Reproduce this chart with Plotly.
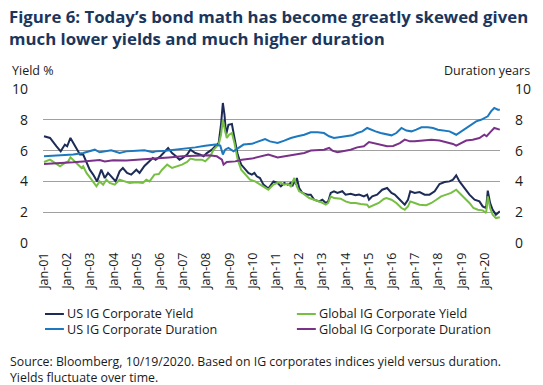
import plotly.graph_objects as go

# ---- data (x in decimal years) ----
us_yield_x = [2001.0, 2001.26, 2001.54, 2001.72, 2001.90, 2002.00, 2002.14, 2002.33, 2002.55, 2002.69, 2002.83, 2002.97,
              2003.12, 2003.29, 2003.47, 2003.62, 2003.76, 2003.90, 2004.09, 2004.26, 2004.40, 2004.58, 2004.76, 2004.98,
              2005.12, 2005.33, 2005.55, 2005.69, 2005.81, 2006.02, 2006.35, 2006.52, 2006.69, 2006.84, 2006.98, 2007.17,
              2007.31, 2007.52, 2007.74, 2007.88, 2008.02, 2008.24, 2008.38, 2008.53, 2008.63, 2008.71, 2008.78, 2008.85,
              2008.95, 2009.10, 2009.21, 2009.35, 2009.50, 2009.67, 2009.81, 2009.96, 2010.07, 2010.17, 2010.31, 2010.46,
              2010.67, 2010.89, 2011.07, 2011.21, 2011.36, 2011.50, 2011.64, 2011.71, 2011.79, 2011.86, 2011.90, 2012.00,
              2012.14, 2012.36, 2012.50, 2012.65, 2012.86, 2013.00, 2013.15, 2013.25, 2013.36, 2013.50, 2013.65, 2013.86,
              2014.00, 2014.22, 2014.43, 2014.58, 2014.79, 2014.93, 2015.01, 2015.15, 2015.36, 2015.58, 2015.79, 2015.98,
              2016.12, 2016.34, 2016.55, 2016.69, 2016.79, 2016.98, 2017.19, 2017.41, 2017.62, 2017.84, 2018.05, 2018.27,
              2018.48, 2018.63, 2018.77, 2018.91, 2019.13, 2019.34, 2019.56, 2019.77, 2019.91, 2020.06, 2020.13, 2020.23,
              2020.34, 2020.48, 2020.65]
us_yield = [6.93, 6.82, 6.28, 5.95, 6.39, 6.28, 6.82, 6.28, 5.74, 5.74, 5.2, 4.76,
            4.44, 4.0, 4.76, 4.22, 4.55, 4.33, 4.0, 4.65, 4.87, 4.55, 4.44, 4.76,
            4.55, 5.0, 5.3, 5.52, 5.41, 5.63, 6.17, 5.84, 5.63, 5.41, 5.52, 5.74,
            6.06, 5.84, 5.74, 5.63, 5.84, 6.06, 6.28, 6.49, 7.68, 9.09, 8.33, 7.03,
            7.68, 7.73, 6.82, 5.74, 5.09, 4.76, 4.55, 4.44, 4.55, 4.33, 4.22, 3.79,
            3.53, 4.0, 3.9, 3.68, 3.9, 3.79, 3.9, 3.68, 4.11, 3.79, 4.22, 3.57,
            3.25, 3.14, 3.14, 2.81, 2.7, 2.81, 2.6, 2.7, 3.25, 3.36, 3.25, 3.36,
            3.14, 3.2, 3.1, 3.14, 3.03, 3.14, 2.81, 3.03, 3.14, 3.46, 3.57, 3.25,
            3.14, 2.81, 2.49, 2.81, 3.36, 3.25, 3.31, 3.14, 3.14, 3.36, 3.83, 3.96,
            4.0, 4.11, 4.39, 4.0, 3.57, 3.14, 2.81, 2.7, 2.38, 2.27, 3.4, 2.6,
            2.16, 1.84, 2.06]

gl_yield_x = [2001.0, 2001.26, 2001.47, 2001.69, 2001.90, 2002.04, 2002.14, 2002.33, 2002.47, 2002.62, 2002.69, 2002.83,
              2003.05, 2003.26, 2003.40, 2003.55, 2003.69, 2003.83, 2004.05, 2004.26, 2004.48, 2004.69, 2004.98, 2005.26,
              2005.41, 2005.55, 2005.76, 2005.95, 2006.09, 2006.31, 2006.52, 2006.74, 2006.95, 2007.17, 2007.31, 2007.52,
              2007.81, 2007.95, 2008.17, 2008.31, 2008.53, 2008.63, 2008.71, 2008.81, 2008.88, 2008.98, 2009.10, 2009.21,
              2009.35, 2009.50, 2009.67, 2009.88, 2010.10, 2010.31, 2010.53, 2010.67, 2010.89, 2011.14, 2011.36, 2011.50,
              2011.64, 2011.71, 2011.79, 2011.90, 2012.00, 2012.14, 2012.43, 2012.65, 2012.93, 2013.15, 2013.25, 2013.36,
              2013.50, 2013.79, 2014.00, 2014.22, 2014.43, 2014.65, 2014.93, 2015.01, 2015.22, 2015.43, 2015.65, 2015.76,
              2015.98, 2016.19, 2016.41, 2016.55, 2016.69, 2016.79, 2016.98, 2017.19, 2017.48, 2017.70, 2017.91, 2018.12,
              2018.34, 2018.55, 2018.77, 2018.91, 2019.13, 2019.34, 2019.51, 2019.70, 2019.91, 2020.06, 2020.13, 2020.23,
              2020.34, 2020.48, 2020.65]
gl_yield = [5.26, 5.41, 5.2, 4.98, 5.2, 5.3, 5.56, 5.3, 5.1, 4.87, 4.98, 4.55,
            4.11, 3.68, 4.0, 3.79, 4.11, 3.9, 3.79, 4.11, 4.0, 3.9, 3.94, 3.9,
            4.11, 4.0, 4.44, 4.48, 4.76, 5.09, 4.87, 4.98, 5.09, 5.26, 5.48, 5.41,
            5.41, 5.3, 5.63, 6.06, 6.39, 7.03, 8.0, 7.25, 6.82, 7.03, 7.14, 6.49,
            5.41, 4.76, 4.44, 4.11, 4.0, 3.79, 3.57, 3.46, 3.79, 3.96, 3.79, 3.85,
            3.68, 3.9, 4.22, 3.68, 3.36, 3.25, 2.92, 2.81, 2.66, 2.49, 2.6, 3.03,
            2.92, 2.88, 2.7, 2.6, 2.6, 2.53, 2.49, 2.32, 2.45, 2.6, 2.86, 2.92,
            2.81, 2.6, 2.27, 2.16, 2.38, 2.7, 2.6, 2.49, 2.45, 2.6, 2.81, 3.03,
            3.14, 3.25, 3.46, 3.25, 2.92, 2.6, 2.27, 2.16, 2.12, 1.95, 3.03, 2.27,
            1.84, 1.62, 1.67]

us_dur_x = [2001.0, 2001.54, 2002.26, 2002.69, 2002.97, 2003.19, 2003.40, 2003.69, 2003.90, 2004.26, 2004.55, 2004.98,
            2005.33, 2005.69, 2005.81, 2006.24, 2006.67, 2007.09, 2007.52, 2007.95, 2008.38, 2008.60, 2008.71, 2008.81,
            2008.95, 2009.17, 2009.38, 2009.60, 2009.96, 2010.24, 2010.53, 2010.74, 2011.07, 2011.36, 2011.64, 2011.93,
            2012.22, 2012.50, 2012.79, 2013.07, 2013.29, 2013.50, 2013.79, 2014.08, 2014.29, 2014.50, 2014.72, 2014.93,
            2015.08, 2015.29, 2015.51, 2015.79, 2015.98, 2016.19, 2016.41, 2016.62, 2016.84, 2017.05, 2017.27, 2017.55,
            2017.77, 2017.98, 2018.20, 2018.48, 2018.77, 2018.98, 2019.20, 2019.41, 2019.63, 2019.84, 2020.03, 2020.13,
            2020.27, 2020.41, 2020.56, 2020.65]
us_dur = [5.63, 5.67, 5.74, 5.84, 5.95, 6.06, 5.89, 5.95, 6.02, 5.84, 5.95, 5.99,
          6.02, 5.89, 5.95, 5.99, 6.06, 6.17, 6.21, 6.32, 6.39, 6.32, 5.74, 6.06,
          6.17, 5.95, 6.17, 6.39, 6.44, 6.6, 6.75, 6.6, 6.5, 6.65, 6.82, 6.93,
          7.03, 7.19, 7.19, 7.14, 6.93, 6.82, 6.88, 6.93, 6.99, 7.14, 7.25, 7.47,
          7.36, 7.25, 7.14, 7.03, 6.99, 7.14, 7.47, 7.3, 7.25, 7.36, 7.51, 7.51,
          7.47, 7.36, 7.3, 7.25, 7.03, 7.25, 7.47, 7.68, 7.9, 8.0, 8.12, 8.23,
          8.55, 8.77, 8.66, 8.66]

gl_dur_x = [2001.0, 2001.69, 2002.26, 2002.69, 2003.12, 2003.40, 2003.62, 2003.98, 2004.55, 2005.12, 2005.55, 2005.91,
            2006.38, 2006.95, 2007.52, 2008.10, 2008.45, 2008.67, 2008.74, 2008.88, 2009.24, 2009.53, 2009.96, 2010.38,
            2010.67, 2011.07, 2011.36, 2011.64, 2011.93, 2012.22, 2012.50, 2012.79, 2013.07, 2013.29, 2013.43, 2013.65,
            2013.93, 2014.22, 2014.50, 2014.79, 2015.01, 2015.22, 2015.51, 2015.79, 2016.05, 2016.34, 2016.55, 2016.77,
            2016.98, 2017.34, 2017.70, 2018.05, 2018.34, 2018.63, 2018.77, 2018.98, 2019.20, 2019.48, 2019.77, 2019.98,
            2020.08, 2020.27, 2020.41, 2020.65]
gl_dur = [5.13, 5.17, 5.24, 5.3, 5.35, 5.39, 5.3, 5.37, 5.35, 5.43, 5.48, 5.52,
          5.56, 5.63, 5.67, 5.69, 5.63, 5.41, 5.09, 5.26, 5.3, 5.41, 5.48, 5.63,
          5.74, 5.56, 5.63, 5.74, 5.78, 5.84, 6.0, 6.04, 6.06, 6.17, 6.0, 5.89,
          5.95, 6.06, 6.21, 6.28, 6.56, 6.49, 6.39, 6.28, 6.3, 6.49, 6.71, 6.6,
          6.6, 6.65, 6.71, 6.65, 6.56, 6.43, 6.32, 6.49, 6.65, 6.71, 6.82, 7.03,
          6.93, 7.25, 7.47, 7.36]

tick_years = list(range(2001, 2021))
tick_labels = ["Jan-%02d" % (y % 100) for y in tick_years]

series_names = ["US IG Corporate Yield", "Global IG Corporate Yield",
                "US IG Corporate Duration", "Global IG Corporate Duration"]
colors = ["#1d2b57", "#76bf43", "#1c78bf", "#7a3189"]

FONT = "Open Sans"
TXT = "#1a1a1a"

fig = go.Figure()
fig.add_trace(go.Scatter(x=us_yield_x, y=us_yield, mode="lines", name=series_names[0],
                         line=dict(color=colors[0], width=2), yaxis="y"))
fig.add_trace(go.Scatter(x=gl_yield_x, y=gl_yield, mode="lines", name=series_names[1],
                         line=dict(color=colors[1], width=2), yaxis="y"))
fig.add_trace(go.Scatter(x=us_dur_x, y=us_dur, mode="lines", name=series_names[2],
                         line=dict(color=colors[2], width=2), yaxis="y2"))
fig.add_trace(go.Scatter(x=gl_dur_x, y=gl_dur, mode="lines", name=series_names[3],
                         line=dict(color=colors[3], width=2), yaxis="y2"))

L, R, T, B = 41, 43, 89, 142
W, H = 543, 385
pw, ph = W - L - R, H - T - B

def px(xp):
    return (xp - L) / pw

def py(yp):
    return (H - B - yp) / ph

annotations = [
    dict(text="<b>Figure 6: Today’s bond math has become greatly skewed given<br>much lower yields and much higher duration</b>",
         x=px(5), y=py(27), xanchor="left", yanchor="middle", align="left",
         font=dict(size=16.8, color="#1b365d", family=FONT)),
    dict(text="Yield %", x=px(8), y=py(70), xanchor="left", yanchor="middle",
         font=dict(size=12.5, color=TXT, family=FONT)),
    dict(text="Duration years", x=px(532), y=py(70), xanchor="right", yanchor="middle",
         font=dict(size=12.5, color=TXT, family=FONT)),
    dict(text="Source: Bloomberg, 10/19/2020. Based on IG corporates indices yield versus duration.<br>Yields fluctuate over time.",
         x=px(6), y=py(369), xanchor="left", yanchor="middle", align="left",
         font=dict(size=12.3, color=TXT, family=FONT)),
]
shapes = []
legend_cols = [(43, [0, 2]), (296, [1, 3])]
legend_rows = [314, 329]
for lx, idxs in legend_cols:
    for ly, i in zip(legend_rows, idxs):
        shapes.append(dict(type="line", xref="paper", yref="paper", x0=px(lx), x1=px(lx + 19),
                           y0=py(ly), y1=py(ly), line=dict(color=colors[i], width=2)))
    annotations.append(dict(text="<br>".join(series_names[i] for i in idxs),
                            x=px(lx + 20), y=py(sum(legend_rows) / 2), xanchor="left", yanchor="middle",
                            align="left", font=dict(size=12.6, color=TXT, family=FONT)))
for a in annotations:
    a.update(xref="paper", yref="paper", showarrow=False)

fig.update_layout(
    width=W, height=H,
    margin=dict(l=L, r=R, t=T, b=B),
    paper_bgcolor="white", plot_bgcolor="white",
    showlegend=False,
    font=dict(family=FONT, color=TXT),
    xaxis=dict(range=[2000.957, 2020.657], tickmode="array", tickvals=tick_years, ticktext=tick_labels,
               tickangle=-90, showgrid=False, zeroline=False, showline=False,
               tickfont=dict(size=12.5, color=TXT), ticks="", ticklabelstandoff=6),
    yaxis=dict(range=[0, 10], dtick=2, showgrid=True, gridcolor="#a0a0a0", gridwidth=1,
               zeroline=False, showline=False, tickfont=dict(size=14, color=TXT),
               ticks="", ticklabelstandoff=14),
    yaxis2=dict(range=[0, 10], dtick=2, overlaying="y", side="right", showgrid=False,
                zeroline=False, showline=False, tickfont=dict(size=14, color=TXT),
                ticks="", ticklabelstandoff=14),
    annotations=annotations,
    shapes=shapes,
)

fig.write_html("out.html", config={"displayModeBar": False},
               post_script="document.body.style.margin='0';document.body.style.padding='0';")
